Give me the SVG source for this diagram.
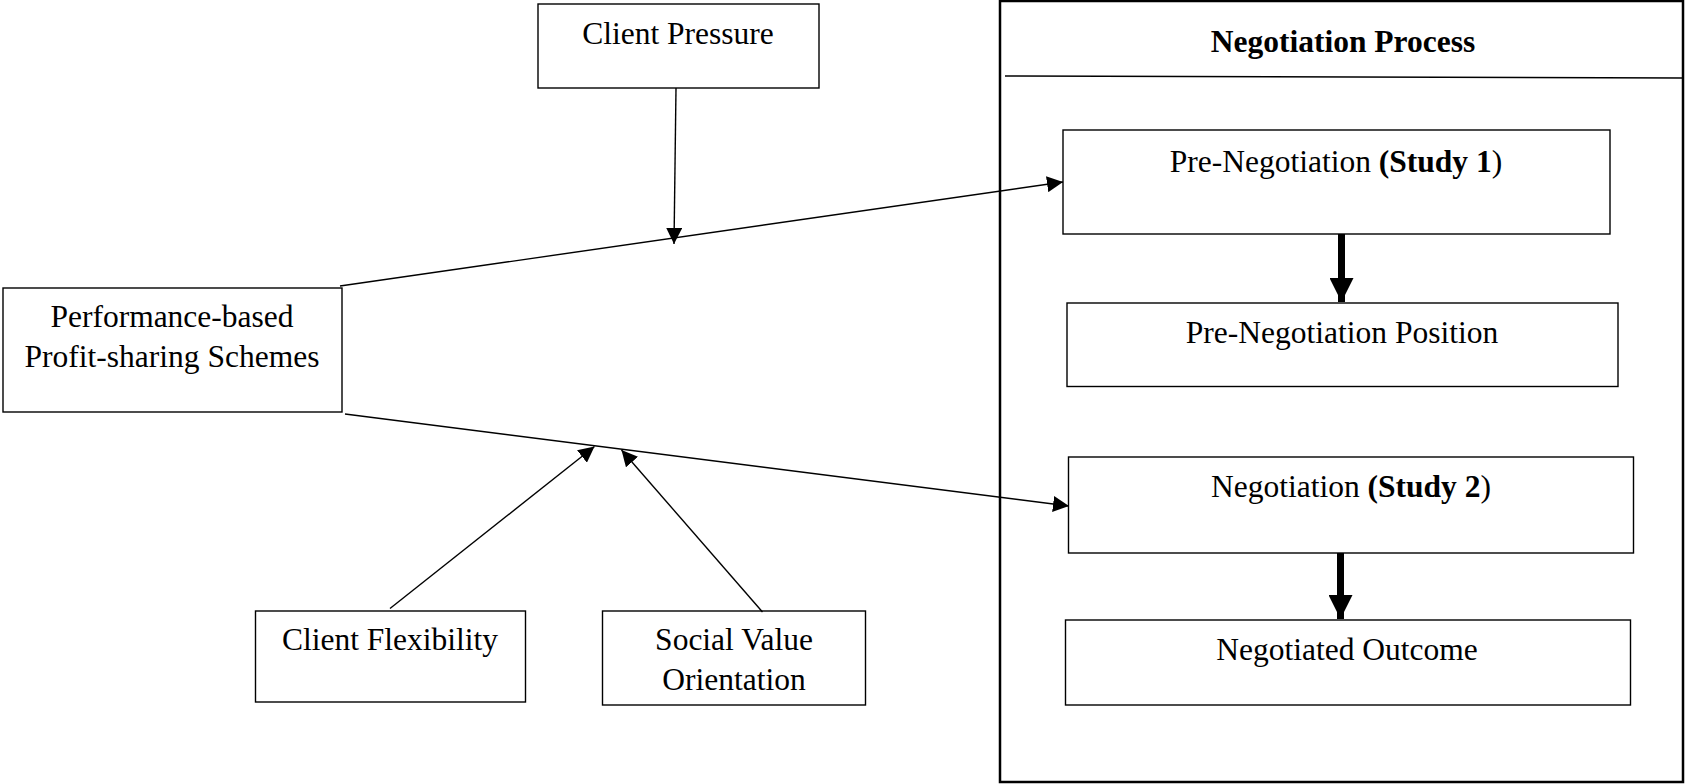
<svg xmlns="http://www.w3.org/2000/svg" width="1686" height="784" viewBox="0 0 1686 784">
<style>
.box{fill:#fff;stroke:#000;stroke-width:1.4}
.t{font-family:"Liberation Serif","Times New Roman",serif;font-size:31.5px;fill:#000;text-anchor:middle}
.b{font-weight:bold}
.ln{stroke:#000;stroke-width:1.4;fill:none}
.thick{stroke:#000;stroke-width:7;fill:none}
</style>
<defs>
<marker id="ah" markerUnits="userSpaceOnUse" markerWidth="16" markerHeight="16" viewBox="0 0 16 16" refX="16" refY="8" orient="auto">
<path d="M0,0 L16,8 L0,16 Z" fill="#000"/>
</marker>
<marker id="bh" markerUnits="userSpaceOnUse" markerWidth="24" markerHeight="24" viewBox="0 0 24 24" refX="24" refY="12" orient="auto">
<path d="M0,0 L24,12 L0,24 Z" fill="#000"/>
</marker>
</defs>
<g id="negotiation-process">
<rect x="1000" y="1" width="683" height="781" fill="#fff" stroke="#000" stroke-width="2.5"/>
<line x1="1005" y1="76" x2="1683" y2="78" stroke="#000" stroke-width="1.4"/>
<text class="t b" x="1343" y="52">Negotiation Process</text>
</g>
<g id="client-pressure">
<rect class="box" x="538" y="4" width="281" height="84"/>
<text class="t" x="678" y="44">Client Pressure</text>
</g>
<g id="performance">
<rect class="box" x="3" y="288" width="339" height="124"/>
<text class="t" x="172" y="327">Performance-based</text>
<text class="t" x="172" y="367">Profit-sharing Schemes</text>
</g>
<g id="client-flexibility">
<rect class="box" x="255.5" y="611" width="270" height="91"/>
<text class="t" x="390" y="650">Client Flexibility</text>
</g>
<g id="social-value">
<rect class="box" x="602.5" y="611" width="263" height="94"/>
<text class="t" x="734" y="650">Social Value</text>
<text class="t" x="734" y="690">Orientation</text>
</g>
<g id="pre-negotiation">
<rect class="box" x="1063" y="130" width="547" height="104"/>
<text class="t" x="1336" y="172">Pre-Negotiation <tspan class="b">(Study 1</tspan>)</text>
</g>
<g id="pre-negotiation-position">
<rect class="box" x="1067" y="303" width="551" height="83.5"/>
<text class="t" x="1342" y="343">Pre-Negotiation Position</text>
</g>
<g id="negotiation">
<rect class="box" x="1068.5" y="457" width="565" height="96"/>
<text class="t" x="1351" y="497">Negotiation <tspan class="b">(Study 2</tspan>)</text>
</g>
<g id="negotiated-outcome">
<rect class="box" x="1065.5" y="620" width="565" height="85"/>
<text class="t" x="1347" y="660">Negotiated Outcome</text>
</g>
<g id="connectors">
<line class="ln" x1="340" y1="286" x2="1063" y2="182" marker-end="url(#ah)"/>
<line class="ln" x1="345" y1="414" x2="1069" y2="506" marker-end="url(#ah)"/>
<line class="ln" x1="676" y1="88" x2="674" y2="244" marker-end="url(#ah)"/>
<line class="ln" x1="390" y1="608.5" x2="594.5" y2="446.5" marker-end="url(#ah)"/>
<line class="ln" x1="762.5" y1="612" x2="621.5" y2="450" marker-end="url(#ah)"/>
<line class="thick" x1="1341.5" y1="234" x2="1341.5" y2="302" marker-end="url(#bh)"/>
<line class="thick" x1="1340.5" y1="553" x2="1340.5" y2="619" marker-end="url(#bh)"/>
</g>
</svg>
